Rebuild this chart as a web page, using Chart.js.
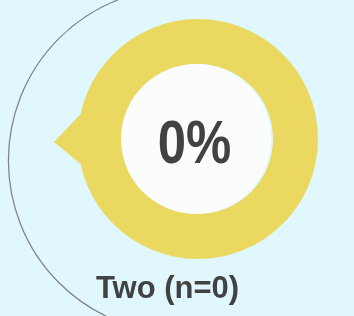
<!DOCTYPE html>
<html>
<head>
<meta charset="utf-8">
<script src="https://cdn.jsdelivr.net/npm/chart.js@4/dist/chart.umd.min.js"></script>
<style>
  html, body { margin: 0; padding: 0; background: #e0f8fd; }
  #wrap { width: 354px; height: 316px; }
</style>
</head>
<body>
<div id="wrap"><canvas id="gauge"></canvas></div>
<script>
// values
const groupLabels = ['Two'];
const percentValues = [0];
const sampleSizes = [0];

const ringColor = '#ead860';
const textColor = '#424242';

// extra bits drawn around the doughnut: outline arc, pointer, inner disc and texts
const decorPlugin = {
  id: 'decor',
  beforeDatasetsDraw(chart) {
    const arc = chart.getDatasetMeta(0).data[0];
    if (!arc) return;
    const { x, y, outerRadius } = arc.getProps(['x', 'y', 'outerRadius'], true);
    const ctx = chart.ctx;
    ctx.save();
    // thin grey arc on the left
    ctx.beginPath();
    ctx.strokeStyle = '#7f7f7f';
    ctx.lineWidth = 1.2;
    ctx.arc(x - outerRadius * 0.14, y + outerRadius * 0.18, outerRadius * 1.44, Math.PI / 2, Math.PI * 1.5);
    ctx.stroke();
    // pointer on the left side
    const a = 0.21;
    ctx.beginPath();
    ctx.fillStyle = ringColor;
    ctx.moveTo(x - outerRadius * Math.cos(a), y - outerRadius * Math.sin(a));
    ctx.lineTo(x - outerRadius * 1.2, y + 3);
    ctx.lineTo(x - outerRadius * Math.cos(a), y + outerRadius * Math.sin(a));
    ctx.closePath();
    ctx.fill();
    ctx.restore();
  },
  afterDatasetsDraw(chart) {
    const arc = chart.getDatasetMeta(0).data[0];
    if (!arc) return;
    const { x, y, innerRadius, outerRadius } = arc.getProps(['x', 'y', 'innerRadius', 'outerRadius'], true);
    const ctx = chart.ctx;
    ctx.save();
    ctx.beginPath();
    ctx.fillStyle = '#fbfdfd';
    ctx.arc(x - 2, y, innerRadius, 0, Math.PI * 2);
    ctx.fill();

    ctx.fillStyle = textColor;
    ctx.textAlign = 'center';
    ctx.textBaseline = 'alphabetic';
    ctx.save();
    ctx.translate(x - 3.5, y + 24);
    ctx.scale(0.82, 1);
    ctx.font = 'bold 62px "Liberation Sans", Arial, sans-serif';
    ctx.fillText(percentValues[0] + '%', 0, 0);
    ctx.restore();

    ctx.font = 'bold 31px "Liberation Sans", Arial, sans-serif';
    ctx.fillText(groupLabels[0] + ' (n=' + sampleSizes[0] + ')', x - 30.5, y + outerRadius + 39);
    ctx.restore();
  }
};

new Chart(document.getElementById('gauge'), {
  type: 'doughnut',
  data: {
    labels: [groupLabels[0], 'rest'],
    datasets: [{
      data: [percentValues[0], 100 - percentValues[0]],
      backgroundColor: ['#d4a93a', ringColor],
      borderWidth: 0
    }]
  },
  options: {
    responsive: true,
    maintainAspectRatio: false,
    animation: false,
    cutout: '62.5%',
    layout: { padding: { left: 78, right: 36, top: 19, bottom: 57 } },
    plugins: {
      legend: { display: false },
      tooltip: { enabled: false },
      title: { display: false }
    },
    events: []
  },
  plugins: [decorPlugin]
});
</script>
</body>
</html>
